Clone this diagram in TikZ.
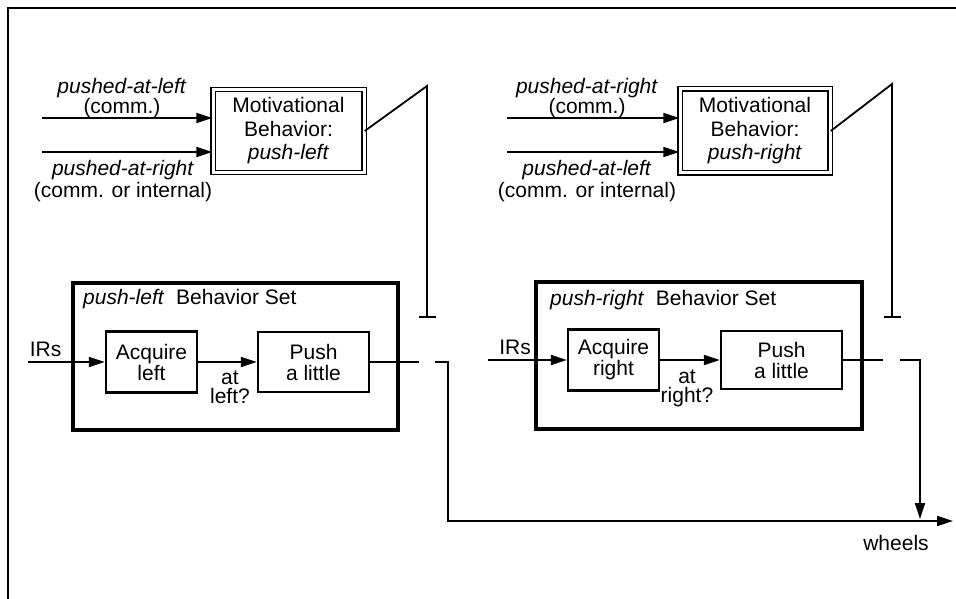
\documentclass[tikz,border=0pt]{standalone}
\usepackage{fontspec}
\setmainfont{Liberation Sans}
\usetikzlibrary{arrows.meta, positioning}
\tikzset{
    linea/.style={line width=1.8pt},
    flecha/.style={line width=1.8pt, -{Triangle[length=16pt,width=10pt]}},
    inhibe/.style={line width=1.8pt, -{Bar[width=17pt,line width=2pt]}},
    motivacion/.style={draw, double, double distance=3pt, line width=1.4pt, inner sep=0pt, align=center, font=\fontsize{21}{23.5}\selectfont},
    conjunto/.style={draw, line width=3.8pt, inner sep=0pt},
    caja/.style={draw, line width=2.2pt, inner sep=0pt, align=center, font=\fontsize{21}{21}\selectfont},
    rotulo/.style={inner sep=0pt, align=center, font=\fontsize{21}{20}\selectfont},
}

\begin{document}
\begin{tikzpicture}[x=1pt, y=-1pt]
\useasboundingbox (0,0) rectangle (956,599);
% marco
\draw[line width=2.2pt] (8,599) -- (8,8) -- (956,8);
% push-left
\begin{scope}[shift={(0,0)}]
\node[motivacion, minimum width=151, minimum height=83] (motL) at (288.5,131) {Motivational\\Behavior:\\\textit{push-left}};
\coordinate (inL1) at (42,118);
\coordinate (inL2) at (42,152);
\draw[flecha] (inL1) -- (inL1 -| motL.west);
\draw[flecha] (inL2) -- (inL2 -| motL.west);
\node[rotulo] (lblL1) at (122,98) {\textit{pushed-at-left}\\(comm.)};
\node[rotulo, font=\fontsize{21}{22}\selectfont] (lblL2) at (123,181) {\textit{pushed-at-right}\\(comm. or internal)};
\coordinate (topL) at (427,86);
\coordinate (barL) at (427,318);
\draw[inhibe] (motL.east) -- (topL) -- (barL);
\node[conjunto, minimum width=325.5, minimum height=147.5] (setL) at (235.5,356.5) {};
\node[rotulo, anchor=base west] (titL) at (83,304) {\textit{push-left}\ \ Behavior Set};
\node[caja, minimum width=91, minimum height=61] (acqL) at (151.5,362) {Acquire\\left};
\node[caja, minimum width=111, minimum height=60] (pushL) at (313.5,362) {Push\\a little};
\coordinate (irL) at (28,362);
\draw[flecha] (irL) -- (acqL.west);
\node[rotulo, anchor=base] (irsL) at (45.5,356) {IRs};
\draw[flecha] (acqL.east) -- (pushL.west);
\node[rotulo, font=\fontsize{21}{19}\selectfont] (atL) at (230,387) {at\\left?};
\coordinate (cutL) at (419,362);
\draw[linea] (pushL.east) -- (cutL);
\end{scope}
% push-right
\begin{scope}[shift={(463,0)}]
\node[motivacion, minimum width=150, minimum height=84] (motR) at (292,131) {Motivational\\Behavior:\\\textit{push-right}};
\coordinate (inR1) at (44,118);
\coordinate (inR2) at (44,152);
\draw[flecha] (inR1) -- (inR1 -| motR.west);
\draw[flecha] (inR2) -- (inR2 -| motR.west);
\node[rotulo] (lblR1) at (124,98) {\textit{pushed-at-right}\\(comm.)};
\node[rotulo, font=\fontsize{21}{22}\selectfont] (lblR2) at (124,181) {\textit{pushed-at-left}\\(comm. or internal)};
\coordinate (topR) at (429,84);
\coordinate (barR) at (429,318);
\draw[inhibe] (motR.east) -- (topR) -- (barR);
\node[conjunto, minimum width=326.5, minimum height=147.5] (setR) at (236,355.5) {};
\node[rotulo, anchor=base west] (titR) at (87,305) {\textit{push-right}\ \ Behavior Set};
\node[caja, minimum width=91, minimum height=61] (acqR) at (150.5,360) {Acquire\\right};
\node[caja, minimum width=121, minimum height=58] (pushR) at (318.5,360) {Push\\a little};
\coordinate (irR) at (25,360);
\draw[flecha] (irR) -- (acqR.west);
\node[rotulo, anchor=base] (irsR) at (52,354) {IRs};
\draw[flecha] (acqR.east) -- (pushR.west);
\node[rotulo, font=\fontsize{21}{19}\selectfont] (atR) at (224,388) {at\\right?};
\coordinate (cutR) at (420,360);
\draw[linea] (pushR.east) -- (cutR);
\end{scope}
% salida
\coordinate (outL) at (435,362);
\coordinate (outR) at (900,360);
\coordinate (tipR) at (920,519);
\coordinate (tipW) at (953,521);
\draw[flecha] (outL) -- (448,362) -- (448,521) -- (tipW);
\draw[flecha] (outR) -- (920,360) -- (tipR);
\node[rotulo] (ruedas) at (896,543) {wheels};
\end{tikzpicture}
\end{document}
